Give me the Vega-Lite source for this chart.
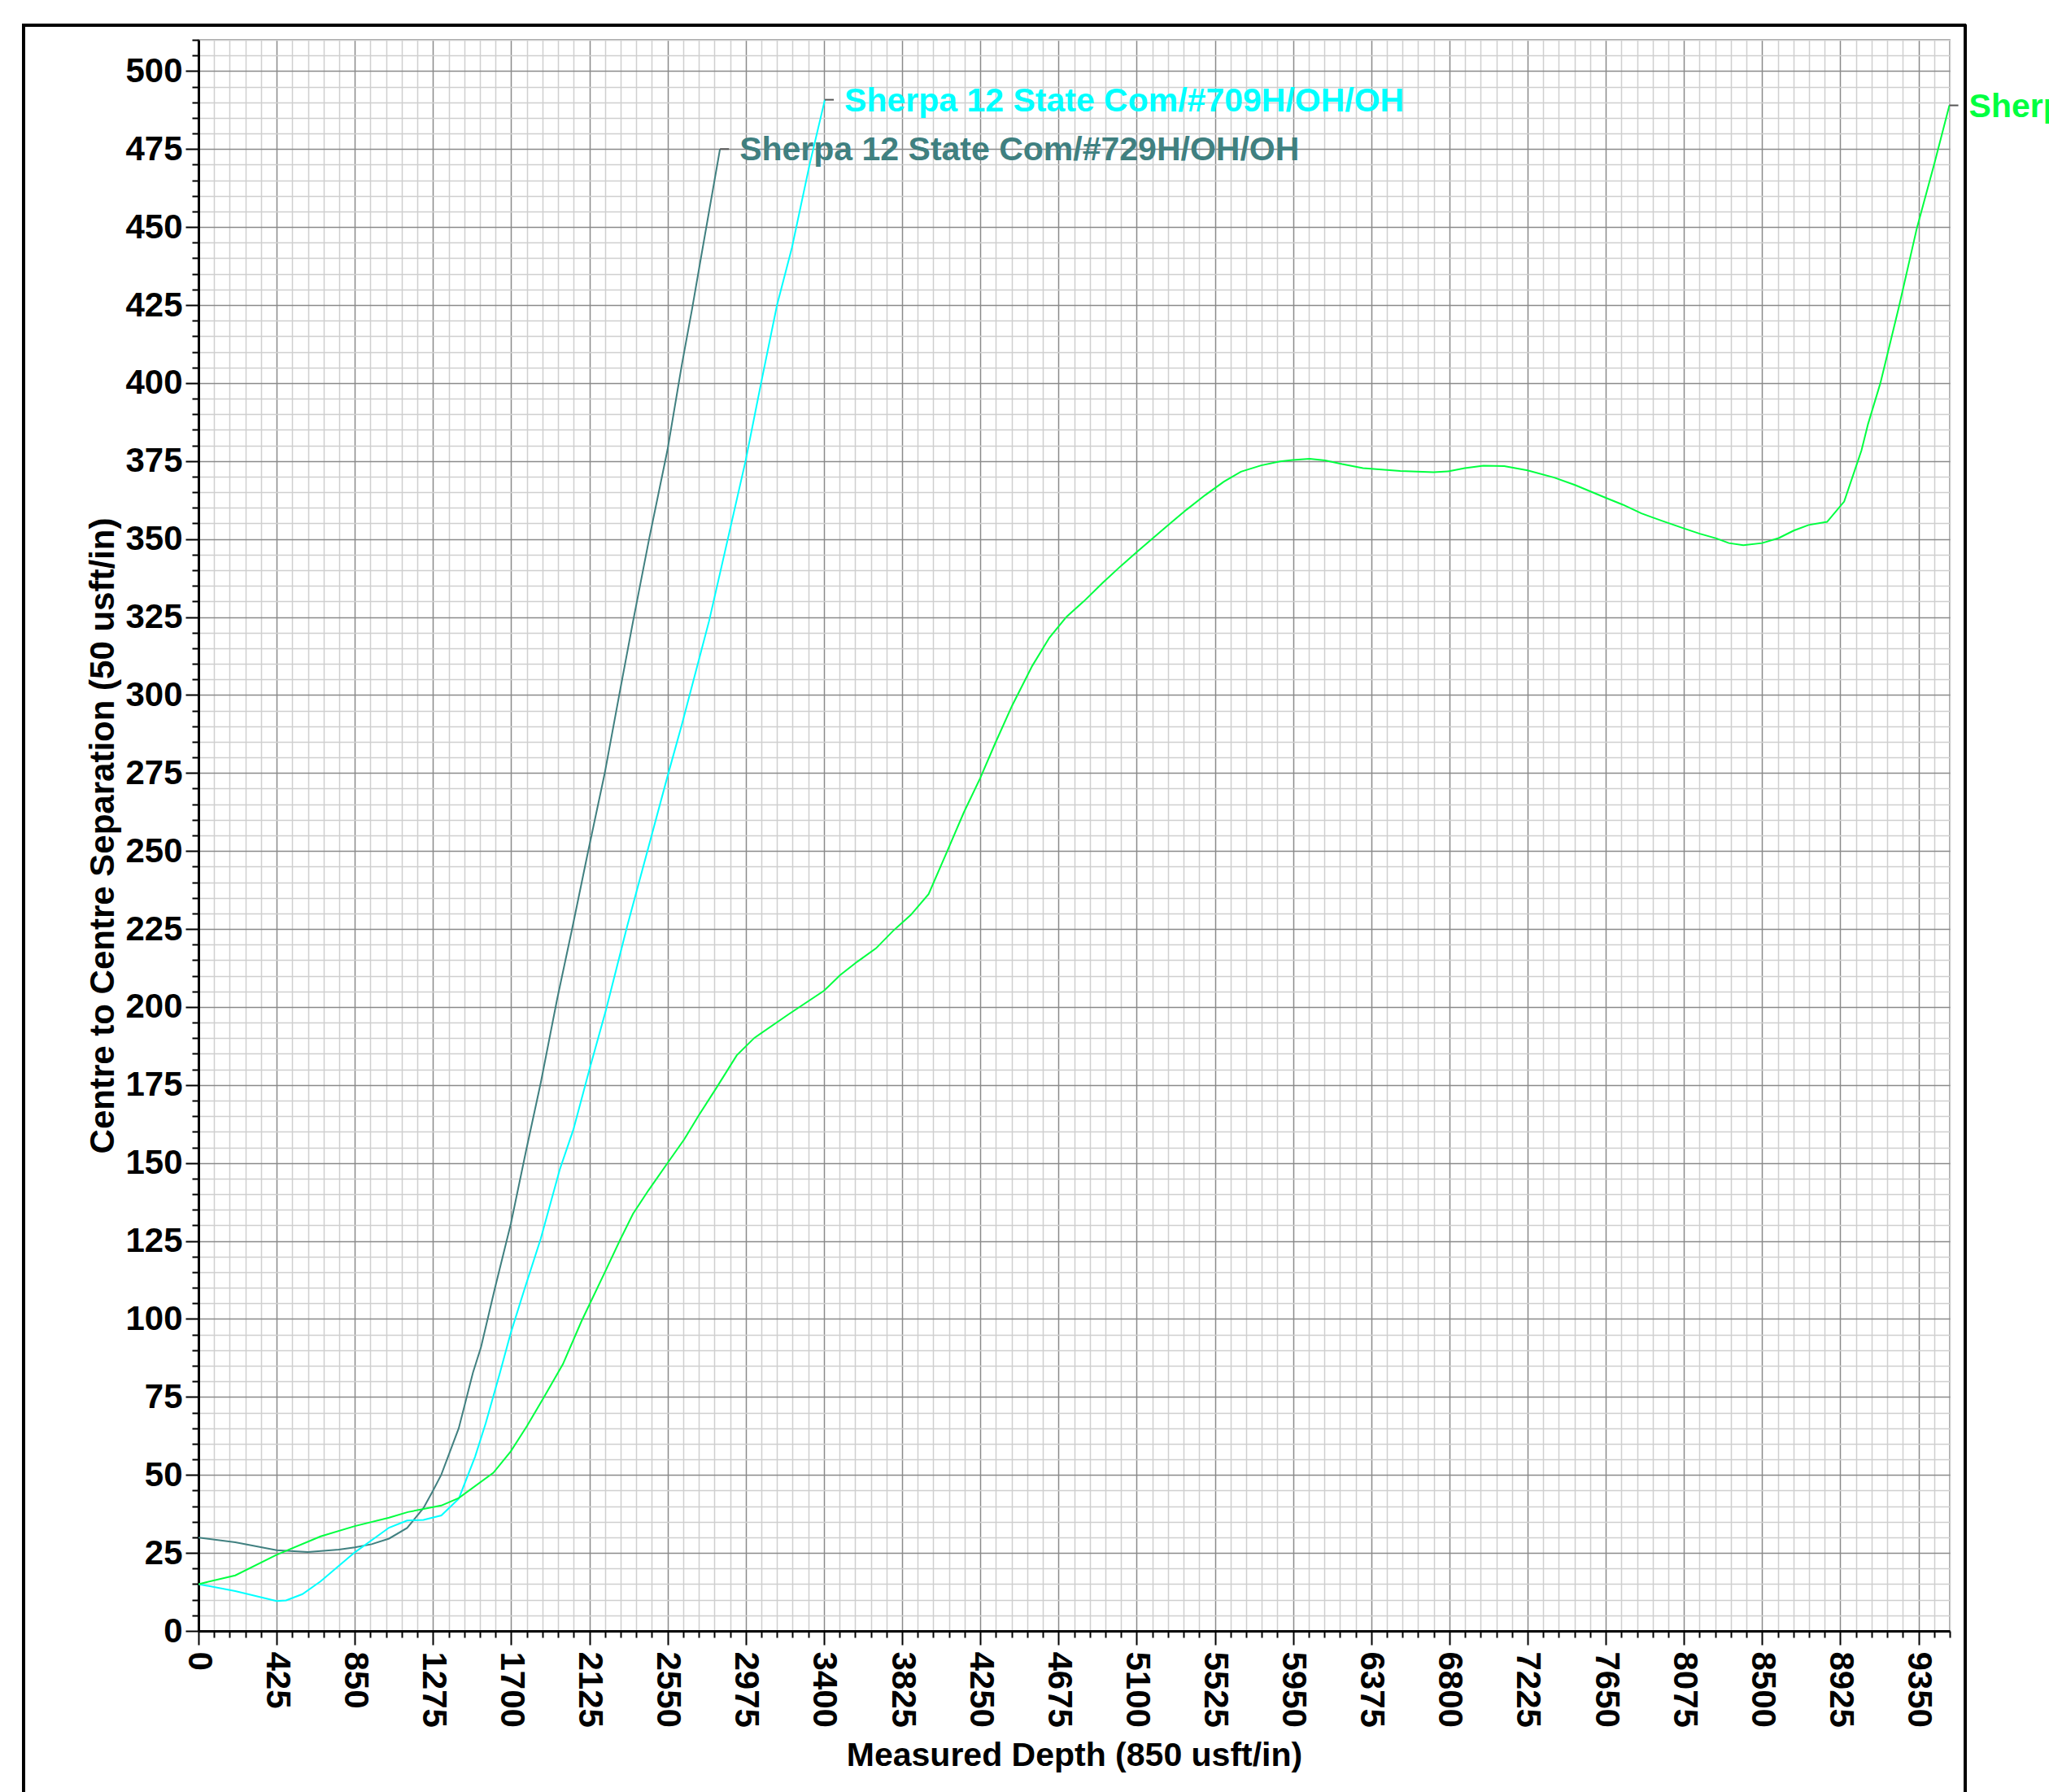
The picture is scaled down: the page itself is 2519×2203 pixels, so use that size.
{
  "$schema": "https://vega.github.io/schema/vega-lite/v6.json",
  "width": 2153,
  "height": 1956,
  "autosize": "none",
  "padding": {"left": 244, "top": 49, "right": 122, "bottom": 198},
  "background": "white",
  "config": {"font": "Liberation Sans", "view": {"stroke": "#808080", "strokeWidth": 1.5}},
  "data": {"values": [
    {"series": "Sherpa 12 State Com/#729H/OH/OH", "md": 0, "sep": 29.9},
    {"series": "Sherpa 12 State Com/#729H/OH/OH", "md": 200, "sep": 28.4},
    {"series": "Sherpa 12 State Com/#729H/OH/OH", "md": 425, "sep": 25.9},
    {"series": "Sherpa 12 State Com/#729H/OH/OH", "md": 595, "sep": 25.3},
    {"series": "Sherpa 12 State Com/#729H/OH/OH", "md": 763, "sep": 26.1},
    {"series": "Sherpa 12 State Com/#729H/OH/OH", "md": 850, "sep": 26.8},
    {"series": "Sherpa 12 State Com/#729H/OH/OH", "md": 941, "sep": 27.8},
    {"series": "Sherpa 12 State Com/#729H/OH/OH", "md": 1036, "sep": 29.6},
    {"series": "Sherpa 12 State Com/#729H/OH/OH", "md": 1134, "sep": 33.0},
    {"series": "Sherpa 12 State Com/#729H/OH/OH", "md": 1223, "sep": 39.4},
    {"series": "Sherpa 12 State Com/#729H/OH/OH", "md": 1275, "sep": 45.0},
    {"series": "Sherpa 12 State Com/#729H/OH/OH", "md": 1320, "sep": 50.1},
    {"series": "Sherpa 12 State Com/#729H/OH/OH", "md": 1415, "sep": 65.0},
    {"series": "Sherpa 12 State Com/#729H/OH/OH", "md": 1492, "sep": 82.8},
    {"series": "Sherpa 12 State Com/#729H/OH/OH", "md": 1536, "sep": 91.0},
    {"series": "Sherpa 12 State Com/#729H/OH/OH", "md": 1610, "sep": 109.5},
    {"series": "Sherpa 12 State Com/#729H/OH/OH", "md": 1698, "sep": 130.5},
    {"series": "Sherpa 12 State Com/#729H/OH/OH", "md": 1780, "sep": 153.7},
    {"series": "Sherpa 12 State Com/#729H/OH/OH", "md": 1861, "sep": 175.8},
    {"series": "Sherpa 12 State Com/#729H/OH/OH", "md": 1950, "sep": 202.6},
    {"series": "Sherpa 12 State Com/#729H/OH/OH", "md": 2031, "sep": 225.0},
    {"series": "Sherpa 12 State Com/#729H/OH/OH", "md": 2115, "sep": 249.0},
    {"series": "Sherpa 12 State Com/#729H/OH/OH", "md": 2208, "sep": 274.8},
    {"series": "Sherpa 12 State Com/#729H/OH/OH", "md": 2289, "sep": 300.6},
    {"series": "Sherpa 12 State Com/#729H/OH/OH", "md": 2363, "sep": 323.8},
    {"series": "Sherpa 12 State Com/#729H/OH/OH", "md": 2451, "sep": 350.4},
    {"series": "Sherpa 12 State Com/#729H/OH/OH", "md": 2550, "sep": 378.7},
    {"series": "Sherpa 12 State Com/#729H/OH/OH", "md": 2628, "sep": 406.0},
    {"series": "Sherpa 12 State Com/#729H/OH/OH", "md": 2684, "sep": 424.0},
    {"series": "Sherpa 12 State Com/#729H/OH/OH", "md": 2731, "sep": 440.0},
    {"series": "Sherpa 12 State Com/#729H/OH/OH", "md": 2835, "sep": 475.0},
    {"series": "Sherpa 12 State Com/#709H/OH/OH", "md": 0, "sep": 15.0},
    {"series": "Sherpa 12 State Com/#709H/OH/OH", "md": 200, "sep": 12.8},
    {"series": "Sherpa 12 State Com/#709H/OH/OH", "md": 425, "sep": 9.6},
    {"series": "Sherpa 12 State Com/#709H/OH/OH", "md": 476, "sep": 9.8},
    {"series": "Sherpa 12 State Com/#709H/OH/OH", "md": 565, "sep": 11.8},
    {"series": "Sherpa 12 State Com/#709H/OH/OH", "md": 664, "sep": 15.9},
    {"series": "Sherpa 12 State Com/#709H/OH/OH", "md": 850, "sep": 25.2},
    {"series": "Sherpa 12 State Com/#709H/OH/OH", "md": 1036, "sep": 33.1},
    {"series": "Sherpa 12 State Com/#709H/OH/OH", "md": 1134, "sep": 35.4},
    {"series": "Sherpa 12 State Com/#709H/OH/OH", "md": 1223, "sep": 35.6},
    {"series": "Sherpa 12 State Com/#709H/OH/OH", "md": 1320, "sep": 37.0},
    {"series": "Sherpa 12 State Com/#709H/OH/OH", "md": 1415, "sep": 42.4},
    {"series": "Sherpa 12 State Com/#709H/OH/OH", "md": 1504, "sep": 55.9},
    {"series": "Sherpa 12 State Com/#709H/OH/OH", "md": 1562, "sep": 66.7},
    {"series": "Sherpa 12 State Com/#709H/OH/OH", "md": 1639, "sep": 82.8},
    {"series": "Sherpa 12 State Com/#709H/OH/OH", "md": 1698, "sep": 95.6},
    {"series": "Sherpa 12 State Com/#709H/OH/OH", "md": 1772, "sep": 109.5},
    {"series": "Sherpa 12 State Com/#709H/OH/OH", "md": 1861, "sep": 125.8},
    {"series": "Sherpa 12 State Com/#709H/OH/OH", "md": 1964, "sep": 147.9},
    {"series": "Sherpa 12 State Com/#709H/OH/OH", "md": 2038, "sep": 160.7},
    {"series": "Sherpa 12 State Com/#709H/OH/OH", "md": 2125, "sep": 179.9},
    {"series": "Sherpa 12 State Com/#709H/OH/OH", "md": 2215, "sep": 199.0},
    {"series": "Sherpa 12 State Com/#709H/OH/OH", "md": 2330, "sep": 225.8},
    {"series": "Sherpa 12 State Com/#709H/OH/OH", "md": 2436, "sep": 249.0},
    {"series": "Sherpa 12 State Com/#709H/OH/OH", "md": 2550, "sep": 274.0},
    {"series": "Sherpa 12 State Com/#709H/OH/OH", "md": 2628, "sep": 290.6},
    {"series": "Sherpa 12 State Com/#709H/OH/OH", "md": 2732, "sep": 313.9},
    {"series": "Sherpa 12 State Com/#709H/OH/OH", "md": 2776, "sep": 323.8},
    {"series": "Sherpa 12 State Com/#709H/OH/OH", "md": 2879, "sep": 350.4},
    {"series": "Sherpa 12 State Com/#709H/OH/OH", "md": 2975, "sep": 375.3},
    {"series": "Sherpa 12 State Com/#709H/OH/OH", "md": 3059, "sep": 400.2},
    {"series": "Sherpa 12 State Com/#709H/OH/OH", "md": 3145, "sep": 425.0},
    {"series": "Sherpa 12 State Com/#709H/OH/OH", "md": 3226, "sep": 443.4},
    {"series": "Sherpa 12 State Com/#709H/OH/OH", "md": 3322, "sep": 470.0},
    {"series": "Sherpa 12 State Com/#709H/OH/OH", "md": 3405, "sep": 490.8},
    {"series": "Sherpa 12 State Com/#710H/OH/OH", "md": 0, "sep": 15.0},
    {"series": "Sherpa 12 State Com/#710H/OH/OH", "md": 200, "sep": 17.8},
    {"series": "Sherpa 12 State Com/#710H/OH/OH", "md": 425, "sep": 24.4},
    {"series": "Sherpa 12 State Com/#710H/OH/OH", "md": 664, "sep": 30.3},
    {"series": "Sherpa 12 State Com/#710H/OH/OH", "md": 850, "sep": 33.6},
    {"series": "Sherpa 12 State Com/#710H/OH/OH", "md": 1036, "sep": 36.3},
    {"series": "Sherpa 12 State Com/#710H/OH/OH", "md": 1138, "sep": 38.1},
    {"series": "Sherpa 12 State Com/#710H/OH/OH", "md": 1320, "sep": 40.2},
    {"series": "Sherpa 12 State Com/#710H/OH/OH", "md": 1415, "sep": 42.6},
    {"series": "Sherpa 12 State Com/#710H/OH/OH", "md": 1603, "sep": 50.7},
    {"series": "Sherpa 12 State Com/#710H/OH/OH", "md": 1698, "sep": 57.6},
    {"series": "Sherpa 12 State Com/#710H/OH/OH", "md": 1786, "sep": 65.7},
    {"series": "Sherpa 12 State Com/#710H/OH/OH", "md": 1879, "sep": 75.0},
    {"series": "Sherpa 12 State Com/#710H/OH/OH", "md": 1981, "sep": 85.5},
    {"series": "Sherpa 12 State Com/#710H/OH/OH", "md": 2083, "sep": 99.4},
    {"series": "Sherpa 12 State Com/#710H/OH/OH", "md": 2210, "sep": 115.1},
    {"series": "Sherpa 12 State Com/#710H/OH/OH", "md": 2294, "sep": 125.6},
    {"series": "Sherpa 12 State Com/#710H/OH/OH", "md": 2362, "sep": 133.7},
    {"series": "Sherpa 12 State Com/#710H/OH/OH", "md": 2447, "sep": 141.3},
    {"series": "Sherpa 12 State Com/#710H/OH/OH", "md": 2550, "sep": 150.0},
    {"series": "Sherpa 12 State Com/#710H/OH/OH", "md": 2641, "sep": 157.6},
    {"series": "Sherpa 12 State Com/#710H/OH/OH", "md": 2718, "sep": 165.1},
    {"series": "Sherpa 12 State Com/#710H/OH/OH", "md": 2819, "sep": 174.4},
    {"series": "Sherpa 12 State Com/#710H/OH/OH", "md": 2926, "sep": 184.5},
    {"series": "Sherpa 12 State Com/#710H/OH/OH", "md": 3022, "sep": 190.1},
    {"series": "Sherpa 12 State Com/#710H/OH/OH", "md": 3209, "sep": 197.7},
    {"series": "Sherpa 12 State Com/#710H/OH/OH", "md": 3400, "sep": 205.2},
    {"series": "Sherpa 12 State Com/#710H/OH/OH", "md": 3488, "sep": 210.2},
    {"series": "Sherpa 12 State Com/#710H/OH/OH", "md": 3581, "sep": 214.5},
    {"series": "Sherpa 12 State Com/#710H/OH/OH", "md": 3683, "sep": 218.8},
    {"series": "Sherpa 12 State Com/#710H/OH/OH", "md": 3776, "sep": 224.4},
    {"series": "Sherpa 12 State Com/#710H/OH/OH", "md": 3872, "sep": 229.5},
    {"series": "Sherpa 12 State Com/#710H/OH/OH", "md": 3969, "sep": 236.2},
    {"series": "Sherpa 12 State Com/#710H/OH/OH", "md": 4067, "sep": 249.5},
    {"series": "Sherpa 12 State Com/#710H/OH/OH", "md": 4160, "sep": 262.3},
    {"series": "Sherpa 12 State Com/#710H/OH/OH", "md": 4250, "sep": 273.4},
    {"series": "Sherpa 12 State Com/#710H/OH/OH", "md": 4330, "sep": 284.4},
    {"series": "Sherpa 12 State Com/#710H/OH/OH", "md": 4423, "sep": 296.6},
    {"series": "Sherpa 12 State Com/#710H/OH/OH", "md": 4533, "sep": 309.4},
    {"series": "Sherpa 12 State Com/#710H/OH/OH", "md": 4626, "sep": 318.4},
    {"series": "Sherpa 12 State Com/#710H/OH/OH", "md": 4719, "sep": 325.1},
    {"series": "Sherpa 12 State Com/#710H/OH/OH", "md": 4812, "sep": 330.0},
    {"series": "Sherpa 12 State Com/#710H/OH/OH", "md": 4914, "sep": 335.9},
    {"series": "Sherpa 12 State Com/#710H/OH/OH", "md": 5015, "sep": 341.4},
    {"series": "Sherpa 12 State Com/#710H/OH/OH", "md": 5100, "sep": 345.8},
    {"series": "Sherpa 12 State Com/#710H/OH/OH", "md": 5185, "sep": 350.1},
    {"series": "Sherpa 12 State Com/#710H/OH/OH", "md": 5270, "sep": 354.4},
    {"series": "Sherpa 12 State Com/#710H/OH/OH", "md": 5371, "sep": 359.4},
    {"series": "Sherpa 12 State Com/#710H/OH/OH", "md": 5473, "sep": 364.1},
    {"series": "Sherpa 12 State Com/#710H/OH/OH", "md": 5574, "sep": 368.4},
    {"series": "Sherpa 12 State Com/#710H/OH/OH", "md": 5667, "sep": 371.6},
    {"series": "Sherpa 12 State Com/#710H/OH/OH", "md": 5777, "sep": 373.6},
    {"series": "Sherpa 12 State Com/#710H/OH/OH", "md": 5879, "sep": 374.9},
    {"series": "Sherpa 12 State Com/#710H/OH/OH", "md": 5948, "sep": 375.3},
    {"series": "Sherpa 12 State Com/#710H/OH/OH", "md": 6040, "sep": 375.7},
    {"series": "Sherpa 12 State Com/#710H/OH/OH", "md": 6124, "sep": 375.2},
    {"series": "Sherpa 12 State Com/#710H/OH/OH", "md": 6217, "sep": 374.0},
    {"series": "Sherpa 12 State Com/#710H/OH/OH", "md": 6330, "sep": 372.7},
    {"series": "Sherpa 12 State Com/#710H/OH/OH", "md": 6533, "sep": 371.8},
    {"series": "Sherpa 12 State Com/#710H/OH/OH", "md": 6714, "sep": 371.4},
    {"series": "Sherpa 12 State Com/#710H/OH/OH", "md": 6793, "sep": 371.7},
    {"series": "Sherpa 12 State Com/#710H/OH/OH", "md": 6884, "sep": 372.7},
    {"series": "Sherpa 12 State Com/#710H/OH/OH", "md": 6985, "sep": 373.5},
    {"series": "Sherpa 12 State Com/#710H/OH/OH", "md": 7098, "sep": 373.4},
    {"series": "Sherpa 12 State Com/#710H/OH/OH", "md": 7225, "sep": 372.0},
    {"series": "Sherpa 12 State Com/#710H/OH/OH", "md": 7370, "sep": 369.7},
    {"series": "Sherpa 12 State Com/#710H/OH/OH", "md": 7483, "sep": 367.3},
    {"series": "Sherpa 12 State Com/#710H/OH/OH", "md": 7650, "sep": 363.2},
    {"series": "Sherpa 12 State Com/#710H/OH/OH", "md": 7743, "sep": 361.0},
    {"series": "Sherpa 12 State Com/#710H/OH/OH", "md": 7844, "sep": 358.2},
    {"series": "Sherpa 12 State Com/#710H/OH/OH", "md": 7957, "sep": 355.8},
    {"series": "Sherpa 12 State Com/#710H/OH/OH", "md": 8075, "sep": 353.4},
    {"series": "Sherpa 12 State Com/#710H/OH/OH", "md": 8161, "sep": 351.7},
    {"series": "Sherpa 12 State Com/#710H/OH/OH", "md": 8251, "sep": 350.2},
    {"series": "Sherpa 12 State Com/#710H/OH/OH", "md": 8319, "sep": 348.7},
    {"series": "Sherpa 12 State Com/#710H/OH/OH", "md": 8398, "sep": 348.0},
    {"series": "Sherpa 12 State Com/#710H/OH/OH", "md": 8500, "sep": 348.7},
    {"series": "Sherpa 12 State Com/#710H/OH/OH", "md": 8590, "sep": 350.3},
    {"series": "Sherpa 12 State Com/#710H/OH/OH", "md": 8672, "sep": 352.7},
    {"series": "Sherpa 12 State Com/#710H/OH/OH", "md": 8753, "sep": 354.5},
    {"series": "Sherpa 12 State Com/#710H/OH/OH", "md": 8853, "sep": 355.5},
    {"series": "Sherpa 12 State Com/#710H/OH/OH", "md": 8946, "sep": 362.0},
    {"series": "Sherpa 12 State Com/#710H/OH/OH", "md": 9040, "sep": 378.4},
    {"series": "Sherpa 12 State Com/#710H/OH/OH", "md": 9076, "sep": 386.9},
    {"series": "Sherpa 12 State Com/#710H/OH/OH", "md": 9143, "sep": 400.0},
    {"series": "Sherpa 12 State Com/#710H/OH/OH", "md": 9246, "sep": 425.0},
    {"series": "Sherpa 12 State Com/#710H/OH/OH", "md": 9341, "sep": 449.6},
    {"series": "Sherpa 12 State Com/#710H/OH/OH", "md": 9437, "sep": 470.5},
    {"series": "Sherpa 12 State Com/#710H/OH/OH", "md": 9518, "sep": 489.0}
  ]},
  "layer": [
    {
      "mark": {"type": "line", "strokeWidth": 2, "clip": true},
      "encoding": {
        "x": {
          "field": "md", "type": "quantitative",
          "scale": {"domain": [0, 9520], "nice": false, "zero": false},
          "axis": {
            "title": "Measured Depth (850 usft/in)",
            "values": [0,85,170,255,340,425,510,595,680,765,850,935,1020,1105,1190,1275,1360,1445,1530,1615,1700,1785,1870,1955,2040,2125,2210,2295,2380,2465,2550,2635,2720,2805,2890,2975,3060,3145,3230,3315,3400,3485,3570,3655,3740,3825,3910,3995,4080,4165,4250,4335,4420,4505,4590,4675,4760,4845,4930,5015,5100,5185,5270,5355,5440,5525,5610,5695,5780,5865,5950,6035,6120,6205,6290,6375,6460,6545,6630,6715,6800,6885,6970,7055,7140,7225,7310,7395,7480,7565,7650,7735,7820,7905,7990,8075,8160,8245,8330,8415,8500,8585,8670,8755,8840,8925,9010,9095,9180,9265,9350,9435,9520],
            "tickCount": 500,
            "format": "d",
            "labelExpr": "datum.value % 425 === 0 ? datum.label : ''",
            "labelAngle": 90,
            "labelFontSize": 42,
            "labelFontWeight": "bold",
            "labelColor": "black",
            "labelPadding": 8,
            "labelOverlap": false,
            "labelFlush": false,
            "labelBound": false,
            "tickSize": {"condition": {"test": "datum.value % 425 === 0", "value": 17}, "value": 8},
            "tickColor": "black",
            "tickWidth": 2,
            "domainColor": "black",
            "domainWidth": 3,
            "grid": true,
            "gridColor": {"condition": {"test": "datum.value % 425 === 0", "value": "#8a8a8a"}, "value": "#cfcfcf"},
            "gridWidth": 1.5,
            "titleFontSize": 41,
            "titleFontWeight": "bold",
            "titleColor": "black",
            "titlePadding": 15
          }
        },
        "y": {
          "field": "sep", "type": "quantitative",
          "scale": {"domain": [0, 510], "nice": false, "zero": false},
          "axis": {
            "title": "Centre to Centre Separation (50 usft/in)",
            "values": [0,5,10,15,20,25,30,35,40,45,50,55,60,65,70,75,80,85,90,95,100,105,110,115,120,125,130,135,140,145,150,155,160,165,170,175,180,185,190,195,200,205,210,215,220,225,230,235,240,245,250,255,260,265,270,275,280,285,290,295,300,305,310,315,320,325,330,335,340,345,350,355,360,365,370,375,380,385,390,395,400,405,410,415,420,425,430,435,440,445,450,455,460,465,470,475,480,485,490,495,500,505,510],
            "tickCount": 500,
            "format": "d",
            "labelExpr": "datum.value % 25 === 0 ? datum.label : ''",
            "labelFontSize": 42,
            "labelFontWeight": "bold",
            "labelColor": "black",
            "labelPadding": 4,
            "labelOverlap": false,
            "labelFlush": false,
            "labelBound": false,
            "tickSize": {"condition": {"test": "datum.value % 25 === 0", "value": 16}, "value": 8},
            "tickColor": "black",
            "tickWidth": 2,
            "domainColor": "black",
            "domainWidth": 3,
            "grid": true,
            "gridColor": {"condition": {"test": "datum.value % 25 === 0", "value": "#8a8a8a"}, "value": "#cfcfcf"},
            "gridWidth": 1.5,
            "titleFontSize": 42,
            "titleFontWeight": "bold",
            "titleColor": "black",
            "titlePadding": 5
          }
        },
        "color": {
          "field": "series", "type": "nominal",
          "scale": {
            "domain": ["Sherpa 12 State Com/#729H/OH/OH", "Sherpa 12 State Com/#709H/OH/OH", "Sherpa 12 State Com/#710H/OH/OH"],
            "range": ["#408080", "#00FFFF", "#00FF40"]
          },
          "legend": null
        }
      }
    },
    {
      "transform": [
        {"joinaggregate": [{"op": "max", "field": "md", "as": "mx"}], "groupby": ["series"]},
        {"filter": "datum.md === datum.mx"}
      ],
      "mark": {"type": "rule", "color": "#555555", "strokeWidth": 2, "x2Offset": 11},
      "encoding": {
        "x": {"field": "md", "type": "quantitative"},
        "x2": {"field": "md"},
        "y": {"field": "sep", "type": "quantitative"}
      }
    },
    {
      "transform": [
        {"joinaggregate": [{"op": "max", "field": "md", "as": "mx"}], "groupby": ["series"]},
        {"filter": "datum.md === datum.mx"}
      ],
      "mark": {"type": "text", "align": "left", "baseline": "middle", "dx": 24, "dy": 2, "fontSize": 41, "fontWeight": "bold"},
      "encoding": {
        "x": {"field": "md", "type": "quantitative"},
        "y": {"field": "sep", "type": "quantitative"},
        "text": {"field": "series"},
        "color": {"field": "series", "type": "nominal"}
      }
    },
    {
      "mark": {"type": "rect", "filled": false, "stroke": "black", "strokeWidth": 3, "clip": false},
      "encoding": {
        "x": {"datum": -951},
        "x2": {"datum": 9602},
        "y": {"datum": 514.6},
        "y2": {"datum": -60}
      }
    }
  ]
}
